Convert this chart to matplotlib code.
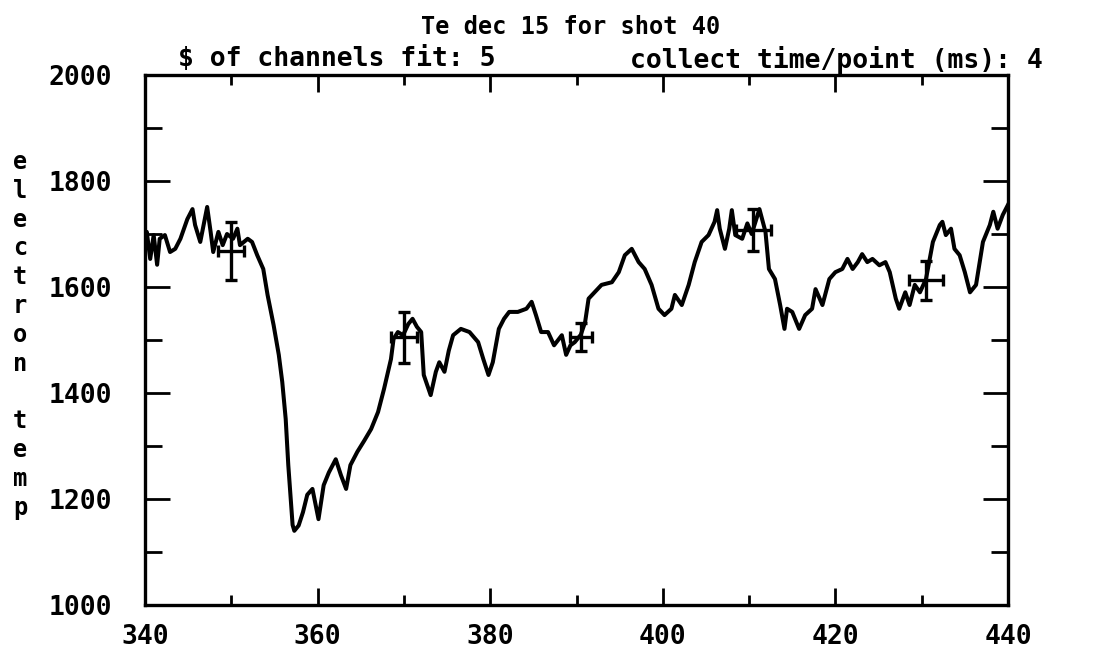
import matplotlib
matplotlib.use("Agg")
import matplotlib.pyplot as plt
from matplotlib.ticker import MultipleLocator

# electron temperature trace, shot 40
time_ms = [
    340.0, 340.2, 340.6, 341.0, 341.4, 341.7, 342.3, 342.9, 343.5, 344.1,
    344.9, 345.5, 345.8, 346.4, 346.7, 347.2, 347.6, 347.9, 348.5, 349.0,
    349.5, 350.2, 350.7, 351.0, 351.9, 352.4, 353.0, 353.7, 354.2, 354.9,
    355.5, 355.9, 356.3, 356.6, 357.1, 357.3, 357.8, 358.3, 358.8, 359.4,
    360.1, 360.7, 361.3, 362.1, 362.7, 363.3, 363.8, 364.6, 365.4, 366.2,
    367.0, 367.7, 368.5, 368.8, 369.3, 369.9, 370.5, 371.0, 371.5, 372.0,
    372.3, 373.1, 373.7, 374.1, 374.7, 375.2, 375.7, 376.6, 377.6, 378.6,
    379.2, 379.8, 380.3, 381.0, 381.6, 382.2, 383.2, 384.2, 384.8, 385.3,
    385.9, 386.7, 387.4, 388.3, 388.8, 389.3, 389.8, 390.5, 391.0, 391.4,
    392.1, 392.9, 394.1, 394.9, 395.6, 396.4, 397.2, 397.9, 398.7, 399.5,
    400.2, 401.0, 401.4, 402.2, 403.0, 403.7, 404.5, 405.3, 406.0, 406.3,
    406.6, 407.2, 407.7, 408.0, 408.4, 409.2, 409.8, 410.3, 411.2, 411.9,
    412.3, 413.0, 413.6, 414.1, 414.4, 415.0, 415.8, 416.5, 417.3, 417.7,
    418.5, 419.3, 420.0, 420.8, 421.4, 422.0, 422.6, 423.1, 423.7, 424.3,
    425.1, 425.8, 426.3, 427.0, 427.4, 428.1, 428.6, 429.2, 429.8, 430.5,
    431.3, 432.1, 432.4, 432.8, 433.4, 433.8, 434.4, 435.0, 435.6, 436.3,
    437.1, 437.9, 438.3, 438.8, 439.4, 440.0,
]
te = [
    1690, 1704, 1653, 1698, 1642, 1691, 1698, 1666, 1672, 1691,
    1728, 1747, 1717, 1685, 1710, 1751, 1704, 1666, 1704, 1679,
    1700, 1691, 1710, 1679, 1691, 1685, 1660, 1634, 1585, 1528,
    1472, 1421, 1351, 1264, 1151, 1140, 1150, 1175, 1208, 1219,
    1162, 1226, 1250, 1275, 1245, 1219, 1264, 1289, 1310, 1332,
    1364, 1408, 1464, 1502, 1515, 1509, 1530, 1540, 1525, 1515,
    1434, 1396, 1440, 1458, 1440, 1480, 1509, 1521, 1515, 1496,
    1464, 1434, 1458, 1521, 1540, 1553, 1553, 1559, 1572, 1547,
    1515, 1515, 1490, 1509, 1472, 1490, 1496, 1510, 1534, 1578,
    1590, 1604, 1609, 1628, 1660, 1672, 1647, 1634, 1604, 1559,
    1547, 1559, 1585, 1566, 1604, 1647, 1685, 1698, 1723, 1745,
    1710, 1672, 1710, 1745, 1698, 1691, 1720, 1700, 1747, 1704,
    1634, 1615, 1566, 1521, 1559, 1553, 1521, 1547, 1559, 1596,
    1566, 1615, 1628, 1634, 1653, 1634, 1647, 1662, 1647, 1653,
    1641, 1647, 1628, 1578, 1559, 1590, 1566, 1604, 1590, 1615,
    1685, 1717, 1723, 1698, 1710, 1672, 1660, 1628, 1590, 1604,
    1685, 1717, 1742, 1710, 1736, 1755,
]

# fitted points with error bars
fit_t = [350.0, 370.0, 390.5, 410.5, 430.5]
fit_te = [1668, 1505, 1506, 1708, 1613]
fit_dte = [55, 48, 27, 40, 37]
fit_dt = [1.5, 1.5, 1.3, 2.0, 2.0]

title = "Te dec 15 for shot 40"
sub_left = "$ of channels fit: 5"
sub_right = "collect time/point (ms): 4"
ylabel = "electron temp"

FONT = "DejaVu Sans Mono"

fig = plt.figure(figsize=(10.93, 6.62), dpi=100, facecolor="white")
ax = fig.add_axes([0.1327, 0.0861, 0.7895, 0.8006])

ax.plot(time_ms, te, color="black", lw=2.9, solid_joinstyle="round")
ax.errorbar(fit_t, fit_te, yerr=fit_dte, xerr=fit_dt, fmt="none",
            ecolor="black", elinewidth=2.4, capsize=4, capthick=2.4)

ax.set_xlim(340, 440)
ax.set_ylim(1000, 2000)
ax.xaxis.set_major_locator(MultipleLocator(20))
ax.xaxis.set_minor_locator(MultipleLocator(10))
ax.yaxis.set_major_locator(MultipleLocator(200))
ax.yaxis.set_minor_locator(MultipleLocator(100))

ax.tick_params(which="both", direction="in", top=True, right=True,
               color="black", width=2)
ax.tick_params(axis="x", which="major", length=12, pad=14)
ax.tick_params(axis="x", which="minor", length=7)
ax.tick_params(axis="y", which="major", length=18, pad=24)
ax.tick_params(axis="y", which="minor", length=12)

for lab in ax.get_xticklabels() + ax.get_yticklabels():
    lab.set_fontfamily(FONT)
    lab.set_fontweight("bold")
    lab.set_fontsize(19)

for sp in ax.spines.values():
    sp.set_linewidth(2.4)

fig.text(0.522, 0.978, title, ha="center", va="top", family=FONT,
         weight="bold", fontsize=17)
fig.text(0.163, 0.93, sub_left, ha="left", va="top", family=FONT,
         weight="bold", fontsize=19)
fig.text(0.576, 0.93, sub_right, ha="left", va="top", family=FONT,
         weight="bold", fontsize=19)

# vertical stacked axis label
for i, ch in enumerate(ylabel):
    y_px = 162 + i * 28.8
    fig.text(20 / 1093, 1 - y_px / 662, ch, ha="center", va="center",
             family=FONT, weight="bold", fontsize=17)

fig.savefig("out.png", dpi=100, facecolor="white")
